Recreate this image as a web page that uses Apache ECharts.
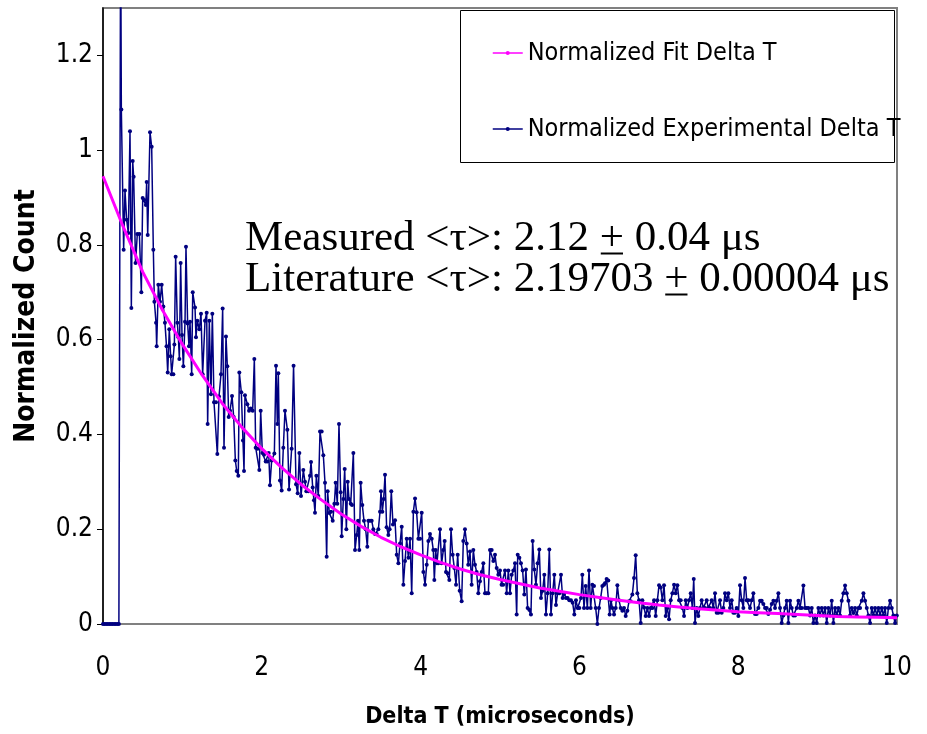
<!DOCTYPE html>
<html>
<head>
<meta charset="utf-8">
<title>Delta T</title>
<script src="https://cdn.jsdelivr.net/npm/echarts/dist/echarts.min.js"></script>
<style>
  html, body { margin: 0; padding: 0; background: #fff; }
  #main { width: 927px; height: 734px; }
</style>
</head>
<body>
<div id="main"></div>
<script>
var xTicks = [0, 2, 4, 6, 8, 10];
var yTicks = [0, 0.2, 0.4, 0.6, 0.8, 1, 1.2];

// fit curve, [time (us), normalized count]
var fitPoints = [
  [0, 0.945], [0.25, 0.84], [0.5, 0.743], [0.75, 0.662], [1, 0.59], [1.25, 0.525],
  [1.5, 0.466], [1.75, 0.415], [2, 0.37], [2.25, 0.33], [2.5, 0.294], [2.75, 0.262],
  [3, 0.232], [3.25, 0.206], [3.5, 0.183], [3.75, 0.163], [4, 0.146], [4.25, 0.13],
  [4.5, 0.116], [4.75, 0.104], [5, 0.094], [5.25, 0.085], [5.5, 0.076], [5.75, 0.069],
  [6, 0.062], [6.25, 0.056], [6.5, 0.05], [6.75, 0.045], [7, 0.04], [7.25, 0.036],
  [7.5, 0.032], [7.75, 0.029], [8, 0.026], [8.25, 0.024], [8.5, 0.022], [8.75, 0.02],
  [9, 0.018], [9.25, 0.016], [9.5, 0.015], [9.75, 0.014], [10, 0.013]
];

// measured histogram, [time (us), normalized count]
var expPoints = [
  [0,0],[0.02,0],[0.04,0],[0.06,0],[0.08,0],[0.1,0],[0.12,0],[0.14,0],[0.16,0],[0.18,0],[0.2,0],
  [0.222,1.5],[0.231,1.086],
  [0.26,0.79],[0.277,0.915],[0.298,0.853],[0.319,0.825],[0.34,1.04],[0.357,0.667],[0.374,0.977],[0.386,0.944],
  [0.41,0.762],[0.432,0.823],[0.458,0.823],[0.483,0.7],[0.5,0.899],[0.52,0.895],[0.54,0.884],[0.55,0.933],
  [0.563,0.821],[0.592,1.038],[0.613,1.007],[0.634,0.79],[0.647,0.68],[0.668,0.636],[0.676,0.586],[0.697,0.716],
  [0.718,0.68],[0.739,0.716],[0.76,0.67],[0.78,0.636],[0.8,0.586],[0.815,0.531],[0.835,0.622],[0.852,0.565],
  [0.865,0.527],[0.886,0.527],[0.899,0.59],[0.915,0.775],[0.936,0.636],[0.949,0.605],[0.962,0.559],[0.978,0.762],
  [0.995,0.61],[1.012,0.544],[1.033,0.638],[1.045,0.796],[1.066,0.634],[1.083,0.586],[1.096,0.638],[1.117,0.527],
  [1.13,0.7],
  [1.159,0.668],[1.171,0.605],[1.188,0.64],[1.213,0.622],[1.234,0.655],[1.255,0.527],[1.285,0.64],[1.306,0.657],
  [1.318,0.422],[1.339,0.64],[1.36,0.485],[1.377,0.655],[1.398,0.468],[1.423,0.468],[1.44,0.359],[1.461,0.48],
  [1.486,0.527],[1.507,0.666],[1.524,0.372],[1.549,0.607],[1.566,0.544],[1.583,0.437],[1.6,0.45],[1.625,0.481],
  [1.646,0.437],[1.667,0.345],[1.684,0.323],[1.704,0.313],[1.717,0.531],[1.742,0.489],[1.763,0.387],[1.776,0.323],
  [1.788,0.483],[1.818,0.464],[1.839,0.45],[1.86,0.455],[1.885,0.45],[1.906,0.559],[1.923,0.372],[1.948,0.37],
  [1.969,0.325],[1.986,0.45],[2.007,0.361],[2.028,0.357],[2.049,0.343],[2.07,0.343],[2.087,0.361],[2.103,0.293],
  [2.124,0.345],[2.158,0.36],[2.179,0.545],[2.196,0.422],[2.208,0.529],[2.229,0.303],[2.25,0.282],[2.271,0.372],
  [2.292,0.45],[2.322,0.41],[2.343,0.284],[2.376,0.37],[2.4,0.545],[2.431,0.295],[2.452,0.276],[2.473,0.361],
  [2.494,0.27],[2.523,0.325],[2.544,0.3],
  [2.561,0.28],[2.586,0.28],[2.607,0.313],[2.62,0.342],[2.641,0.288],[2.657,0.261],[2.67,0.235],[2.687,0.313],
  [2.712,0.27],[2.733,0.406],[2.754,0.406],[2.775,0.356],[2.796,0.298],[2.817,0.142],[2.829,0.28],[2.85,0.234],
  [2.872,0.237],[2.893,0.218],[2.914,0.254],[2.93,0.298],[2.951,0.254],[2.972,0.422],[2.993,0.278],[3.006,0.185],
  [3.027,0.264],[3.044,0.327],[3.065,0.2],[3.082,0.3],[3.098,0.264],[3.12,0.254],[3.136,0.251],[3.153,0.361],
  [3.174,0.156],[3.195,0.188],[3.212,0.218],[3.228,0.156],[3.245,0.298],[3.266,0.251],[3.287,0.218],[3.308,0.2],
  [3.329,0.163],[3.342,0.218],[3.363,0.218],[3.384,0.218],[3.405,0.2],[3.426,0.19],[3.447,0.19],[3.468,0.2],
  [3.489,0.237],[3.501,0.28],[3.518,0.237],[3.535,0.264],[3.552,0.315],[3.572,0.204],[3.594,0.188],[3.61,0.2],
  [3.631,0.28],[3.652,0.21],
  [3.678,0.219],[3.699,0.146],[3.72,0.128],[3.741,0.17],[3.762,0.205],[3.783,0.083],[3.804,0.133],[3.825,0.18],
  [3.846,0.14],[3.867,0.18],[3.888,0.065],[3.909,0.237],[3.93,0.265],[3.95,0.236],[3.972,0.18],[3.993,0.18],
  [4.014,0.235],[4.035,0.11],[4.056,0.083],[4.077,0.125],[4.098,0.175],[4.118,0.19],[4.14,0.18],[4.16,0.156],
  [4.173,0.093],[4.19,0.156],[4.206,0.128],[4.223,0.128],[4.244,0.2],[4.265,0.128],[4.286,0.156],[4.303,0.175],
  [4.32,0.11],[4.341,0.107],[4.362,0.093],[4.383,0.2],[4.404,0.146],[4.425,0.118],[4.446,0.083],[4.467,0.146],
  [4.492,0.07],[4.517,0.048],[4.538,0.175],[4.559,0.2],[4.58,0.17],[4.6,0.125],[4.622,0.153],[4.643,0.083],
  [4.664,0.156],[4.685,0.125],[4.706,0.11],[4.727,0.065],[4.748,0.09],[4.769,0.11],[4.79,0.128],[4.811,0.065],
  [4.832,0.065],[4.853,0.065],[4.874,0.156],[4.895,0.156],[4.916,0.133],
  [4.937,0.146],[4.958,0.118],[4.979,0.104],[5,0.113],[5.02,0.083],[5.04,0.083],[5.063,0.113],[5.084,0.065],
  [5.105,0.113],[5.126,0.065],[5.147,0.104],[5.168,0.113],[5.189,0.128],[5.21,0.02],[5.223,0.146],[5.244,0.14],
  [5.264,0.128],[5.285,0.113],[5.306,0.062],[5.327,0.115],[5.348,0.034],[5.369,0.03],[5.39,0.02],[5.411,0.175],
  [5.432,0.115],[5.453,0.083],[5.474,0.128],[5.495,0.157],[5.516,0.055],[5.537,0.07],[5.558,0.104],[5.579,0.02],
  [5.6,0.065],[5.621,0.157],[5.642,0.02],[5.663,0.065],[5.684,0.104],[5.705,0.04],[5.726,0.065],[5.747,0.065],
  [5.768,0.104],[5.789,0.055],[5.81,0.065],[5.831,0.055],[5.852,0.055],[5.873,0.05],[5.894,0.05],[5.915,0.045],
  [5.936,0.02],[5.957,0.05],[5.978,0.034],[5.999,0.034],[6.02,0.055],[6.037,0.104],[6.058,0.034],[6.079,0.08],
  [6.1,0.034],[6.121,0.113],[6.142,0.034],[6.163,0.083],[6.184,0.08],[6.205,0.034],[6.226,0],[6.247,0.034],
  [6.268,0.055],[6.289,0.08],[6.31,0.083],
  [6.322,0.086],[6.343,0.095],[6.364,0.092],[6.381,0.02],[6.398,0.05],[6.415,0.034],[6.436,0.02],[6.457,0.034],
  [6.478,0.082],[6.499,0.05],[6.52,0.034],[6.541,0.028],[6.562,0.034],[6.583,0.017],[6.604,0.028],[6.625,0.048],
  [6.646,0.048],[6.667,0.062],[6.688,0.097],[6.709,0.145],[6.73,0.065],[6.751,0.05],[6.772,0.002],[6.793,0.05],
  [6.814,0.035],[6.835,0.017],[6.856,0.034],[6.877,0.017],[6.898,0.034],[6.919,0.034],[6.94,0.05],[6.961,0.017],
  [6.982,0.05],[7.003,0.082],[7.024,0.077],[7.045,0.05],[7.066,0.082],[7.087,0.017],[7.108,0.034],[7.129,0.01],
  [7.15,0.05],[7.171,0.065],[7.192,0.083],[7.213,0.065],[7.234,0.082],[7.255,0.05],[7.276,0.05],[7.297,0.034],
  [7.318,0.017],[7.339,0.05],[7.36,0.034],[7.381,0.05],[7.402,0.065],[7.423,0.034],[7.44,0.095],[7.456,0.002],
  [7.477,0.034],[7.498,0.017],[7.519,0.034],[7.54,0.05],[7.561,0.034],[7.582,0.034],[7.603,0.05],[7.624,0.034],
  [7.645,0.034],[7.666,0.05],[7.687,0.034],[7.708,0.065],[7.729,0.024],[7.75,0.024],[7.771,0.05],[7.792,0.024],
  [7.813,0.034],[7.834,0.065],[7.855,0.05],[7.876,0.065],[7.897,0.034],[7.918,0.05],[7.939,0.024],[7.96,0.024],
  [7.981,0.034],[8.002,0.017],[8.023,0.082],[8.044,0.05],[8.065,0.034],
  [8.086,0.097],[8.107,0.05],[8.128,0.05],[8.149,0.034],[8.17,0.05],[8.191,0.065],[8.212,0.021],[8.233,0.021],
  [8.254,0.034],[8.275,0.049],[8.296,0.049],[8.317,0.042],[8.338,0.034],[8.359,0.034],[8.38,0.021],[8.401,0.03],
  [8.422,0.042],[8.443,0.049],[8.464,0.034],[8.485,0.049],[8.506,0.065],[8.527,0.034],[8.548,0.002],[8.569,0.018],
  [8.59,0.034],[8.611,0.049],[8.632,0.002],[8.653,0.049],[8.674,0.034],[8.695,0.018],[8.716,0.018],[8.737,0.034],
  [8.758,0.049],[8.779,0.034],[8.8,0.034],[8.821,0.081],[8.842,0.034],[8.863,0.034],[8.884,0.034],[8.905,0.018],
  [8.926,0.034],[8.947,0.002],[8.968,0.018],[8.989,0.002],[9.01,0.034],[9.031,0.018],[9.052,0.034],[9.073,0.018],
  [9.094,0.034],[9.115,0.002],[9.136,0.034],[9.157,0.018],[9.178,0.049],[9.199,0.002],[9.22,0.034],[9.241,0.018],
  [9.262,0.034],[9.283,0.018],[9.304,0.049],[9.325,0.065],[9.346,0.081],[9.367,0.065],[9.388,0.049],[9.409,0.018],
  [9.43,0.034],[9.451,0.023],[9.472,0.034],[9.493,0.018],[9.514,0.034],[9.535,0.034],[9.556,0.049],[9.577,0.065],
  [9.598,0.049],[9.619,0.034],[9.64,0.018],[9.661,0.002],[9.682,0.034],[9.703,0.018],[9.724,0.034],[9.745,0.018],
  [9.766,0.034],[9.787,0.018],[9.808,0.034],[9.829,0.018],[9.85,0.034],[9.871,0.002],[9.892,0.034],[9.913,0.049],
  [9.934,0.034],[9.955,0.018],[9.976,0.002],[9.997,0.018]
];

var seriesNames = ['Normalized Fit Delta T', 'Normalized Experimental Delta T'];
// each note line: text before the underlined plus, the plus, text after it
var noteLines = [
  ['Measured <\u03c4>: 2.12 ', '+', ' 0.04 \u03bcs'],
  ['Literature <\u03c4>: 2.19703 ', '+', ' 0.00004 \u03bcs']
];

var sans = "'DejaVu Sans Condensed', 'Liberation Sans Narrow', sans-serif";
var serifFont = "43px 'Liberation Serif', 'Times New Roman', serif";

// measure where the "+" sits so it can be underlined like the original
var measureCtx = document.createElement('canvas').getContext('2d');
measureCtx.font = serifFont;

var noteGraphics = [];
noteLines.forEach(function (parts, i) {
  var x = 245, y = 217 + i * 41;
  noteGraphics.push({
    type: 'text', z: 5, x: x, y: y,
    style: { text: parts.join(''), font: serifFont, fill: '#000' }
  });
  var before = measureCtx.measureText(parts[0]).width;
  var plusW = measureCtx.measureText(parts[1]).width;
  noteGraphics.push({
    type: 'line', z: 5,
    shape: { x1: x + before + 1, y1: y + 36.5, x2: x + before + plusW - 1, y2: y + 36.5 },
    style: { stroke: '#000', lineWidth: 2 }
  });
});

var myChart = echarts.init(document.getElementById('main'));

var option = {
  animation: false,
  backgroundColor: '#fff',
  grid: {
    left: 103, right: 30, top: 8, bottom: 108,
    show: true, borderColor: '#808080', borderWidth: 2, backgroundColor: 'transparent'
  },
  legend: {
    data: seriesNames,
    orient: 'vertical',
    left: 487, top: 33,
    itemWidth: 30, itemHeight: 5, itemGap: 46,
    lineStyle: { width: 1.5 },
    textStyle: { fontFamily: sans, fontSize: 25, color: '#000', lineHeight: 30 },
    z: 10
  },
  xAxis: {
    type: 'value', min: 0, max: 10, interval: 2,
    axisLine: { onZero: false, lineStyle: { color: '#808080', width: 2 } },
    axisTick: { show: false },
    splitLine: { show: false },
    axisLabel: {
      customValues: xTicks, margin: 31,
      fontFamily: sans, fontSize: 26, color: '#000'
    },
    name: 'Delta T (microseconds)', nameLocation: 'middle', nameGap: 82,
    nameTextStyle: { fontFamily: sans, fontSize: 23, fontWeight: 'bold', color: '#000' }
  },
  yAxis: {
    type: 'value', min: 0, max: 1.3, interval: 0.2,
    axisLine: { show: true, lineStyle: { color: '#000', width: 1.5 } },
    axisTick: { show: true, customValues: yTicks, length: 6, lineStyle: { color: '#000' } },
    splitLine: { show: false },
    axisLabel: {
      customValues: yTicks, margin: 10,
      fontFamily: sans, fontSize: 26, color: '#000'
    },
    name: 'Normalized Count', nameLocation: 'middle', nameGap: 62,
    nameTextStyle: { fontFamily: sans, fontSize: 28, fontWeight: 'bold', color: '#000' }
  },
  graphic: [
    {
      type: 'rect', z: 5,
      shape: { x: 460.5, y: 10.5, width: 434, height: 152 },
      style: { fill: '#fff', stroke: '#000', lineWidth: 1 }
    }
  ].concat(noteGraphics),
  series: [
    {
      name: seriesNames[0], type: 'line', data: fitPoints, z: 4,
      color: '#ff00ff', symbol: 'circle', symbolSize: 3, showSymbol: false,
      lineStyle: { color: '#ff00ff', width: 3 }
    },
    {
      name: seriesNames[1], type: 'line', data: expPoints, z: 3,
      color: '#000080', symbol: 'circle', symbolSize: 4, showAllSymbol: true,
      itemStyle: { color: '#000080' },
      lineStyle: { color: '#000080', width: 1.5 }
    }
  ]
};

myChart.setOption(option);
</script>
</body>
</html>
